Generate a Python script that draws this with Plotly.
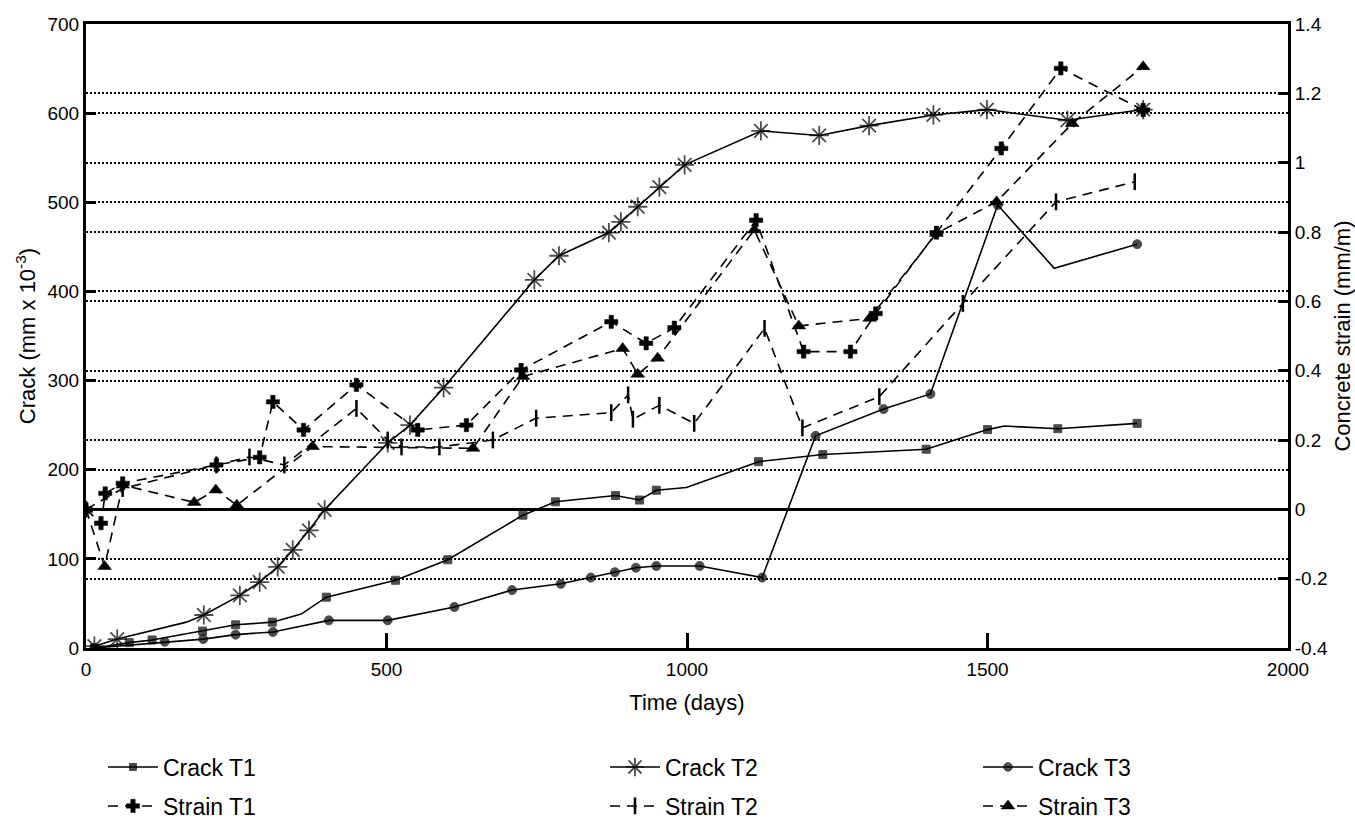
import plotly.graph_objects as go

# ---------------- data ----------------
crack_t1_days = [14, 72, 110, 194, 249, 310, 358, 400, 515, 602, 727, 781, 881, 921, 949, 999, 1119, 1226, 1398, 1500, 1528, 1617, 1749]
crack_t1 = [0, 6, 9, 19, 26, 29, 38, 57, 76, 99, 149, 164, 171, 166, 177, 180, 209, 217, 223, 245, 249, 246, 252]
crack_t1_nomarker_days = [358, 999, 1528]

crack_t2_days = [14, 52, 167, 196, 256, 289, 319, 344, 371, 397, 502, 539, 595, 746, 787, 870, 890, 918, 954, 996, 1123, 1220, 1303, 1410, 1499, 1633, 1759]
crack_t2 = [2, 10, 29, 37, 59, 74, 91, 110, 132, 155, 230, 250, 292, 413, 440, 466, 478, 495, 517, 542, 580, 575, 586, 598, 604, 592, 604]
crack_t2_nomarker_days = [167]

crack_t3_days = [14, 131, 195, 249, 311, 404, 502, 613, 709, 790, 840, 880, 915, 949, 1021, 1125, 1214, 1327, 1405, 1517, 1611, 1749]
crack_t3 = [0, 7, 10, 15, 18, 31, 31, 46, 65, 72, 79, 85, 90, 92, 92, 79, 238, 268, 285, 497, 426, 453]
crack_t3_nomarker_days = [1611]

strain_t1_days = [0, 25, 32, 61, 217, 289, 311, 362, 450, 552, 633, 724, 874, 932, 979, 1115, 1194, 1272, 1314, 1415, 1523, 1622, 1759]
strain_t1 = [0, -0.04, 0.046, 0.075, 0.128, 0.15, 0.31, 0.229, 0.359, 0.229, 0.243, 0.402, 0.541, 0.479, 0.524, 0.834, 0.455, 0.455, 0.565, 0.798, 1.041, 1.272, 1.152]

strain_t2_days = [0, 61, 217, 272, 330, 450, 502, 525, 588, 677, 749, 874, 902, 910, 954, 1012, 1129, 1192, 1320, 1459, 1614, 1745]
strain_t2 = [0, 0.06, 0.128, 0.151, 0.128, 0.291, 0.2, 0.18, 0.18, 0.2, 0.263, 0.279, 0.33, 0.26, 0.30, 0.248, 0.522, 0.235, 0.325, 0.594, 0.887, 0.945]

strain_t3_days = [0, 31, 61, 180, 216, 251, 377, 644, 727, 893, 918, 951, 1112, 1186, 1304, 1415, 1515, 1641, 1759]
strain_t3 = [0, -0.165, 0.07, 0.02, 0.056, 0.012, 0.181, 0.176, 0.383, 0.464, 0.39, 0.436, 0.806, 0.529, 0.551, 0.796, 0.887, 1.113, 1.277]

x_ticks = [0, 500, 1000, 1500, 2000]
crack_ticks = [0, 100, 200, 300, 400, 500, 600, 700]
strain_ticks = [-0.4, -0.2, 0, 0.2, 0.4, 0.6, 0.8, 1.0, 1.2, 1.4]
strain_tick_labels = ["-0.4", "-0.2", "0", "0.2", "0.4", "0.6", "0.8", "1", "1.2", "1.4"]

# ---------------- figure ----------------
FONT = "Liberation Sans, Arial, sans-serif"
W, H = 1355, 826
ML, MR, MT, MB = 86, 67, 24, 178
PW = W - ML - MR
PH = H - MT - MB

def sizes(days, base, skip):
    return [0 if d in skip else base for d in days]

fig = go.Figure()

crack_specs = [
    ("Crack T1", crack_t1_days, crack_t1, "square", 8, crack_t1_nomarker_days),
    ("Crack T2", crack_t2_days, crack_t2, "asterisk-open", 16, crack_t2_nomarker_days),
    ("Crack T3", crack_t3_days, crack_t3, "circle", 9, crack_t3_nomarker_days),
]
strain_specs = [
    ("Strain T1", strain_t1_days, strain_t1, "cross", 11),
    ("Strain T2", strain_t2_days, strain_t2, "line-ns-open", 12),
    ("Strain T3", strain_t3_days, strain_t3, "triangle-up", 12),
]

legend_names = ["legend", "legend2", "legend3", "legend4", "legend5", "legend6"]

for i, (name, xd, yd, sym, sz, skip) in enumerate(crack_specs):
    fig.add_trace(go.Scatter(
        x=xd, y=yd, name=name, mode="lines+markers",
        line=dict(color="black", width=1.6),
        marker=dict(symbol=sym, size=sizes(xd, sz, skip), color="black",
                    line=dict(color="black", width=1.8 if "open" in sym else 1)),
        legend=legend_names[i], yaxis="y",
    ))

for i, (name, xd, yd, sym, sz) in enumerate(strain_specs):
    fig.add_trace(go.Scatter(
        x=xd, y=yd, name=name, mode="lines+markers",
        line=dict(color="black", width=1.6, dash="10px,7px"),
        marker=dict(symbol=sym, size=sz, color="black",
                    line=dict(color="black", width=2.5 if "open" in sym else 0.5)),
        legend=legend_names[3 + i], yaxis="y2",
    ))

def px_to_paper_x(px):
    return (px - ML) / PW

def px_to_paper_y(py):
    return (H - MB - py) / PH

legend_common = dict(font=dict(family=FONT, size=23, color="black"),
                     bgcolor="rgba(0,0,0,0)", borderwidth=0, itemwidth=50,
                     xanchor="left", yanchor="middle")
col_x = [103, 605, 978]
row_y = [767, 806]
layout_legends = {}
for i, ln in enumerate(legend_names):
    col = i % 3
    row = i // 3
    layout_legends[ln] = dict(x=px_to_paper_x(col_x[col]), y=px_to_paper_y(row_y[row]), **legend_common)

fig.update_layout(
    width=W, height=H,
    margin=dict(l=ML, r=MR, t=MT, b=MB, autoexpand=False),
    paper_bgcolor="white", plot_bgcolor="white",
    font=dict(family=FONT, size=19, color="black"),
    showlegend=True,
    xaxis=dict(
        range=[0, 2000], tickvals=x_ticks, ticks="inside", ticklen=15, tickwidth=2.5,
        tickcolor="black", showline=True, linewidth=3, linecolor="black", mirror=True,
        showgrid=False, zeroline=False, ticklabelstandoff=2,
        title=dict(text="Time (days)", font=dict(size=22), standoff=16),
        tickfont=dict(size=19),
    ),
    yaxis=dict(
        range=[0, 700], tickvals=crack_ticks, ticks="inside", ticklen=10, tickwidth=3,
        tickcolor="black", showline=True, linewidth=3, linecolor="black",
        showgrid=True, gridcolor="black", gridwidth=1.5, griddash="2px,2px",
        zeroline=False,
        title=dict(text="Crack (mm x 10<sup>-3</sup>)", font=dict(size=22), standoff=6),
        tickfont=dict(size=19),
    ),
    yaxis2=dict(
        range=[-0.4, 1.4], tickvals=strain_ticks, ticktext=strain_tick_labels,
        overlaying="y", side="right", ticks="inside", ticklen=10, tickwidth=3,
        tickcolor="black", showline=True, linewidth=3, linecolor="black",
        showgrid=True, gridcolor="black", gridwidth=1.5, griddash="2px,2px",
        zeroline=True, zerolinecolor="black", zerolinewidth=3,
        title=dict(text="Concrete strain (mm/m)", font=dict(size=22), standoff=8),
        tickfont=dict(size=19),
    ),
    **layout_legends,
)

fig.write_html("out.html")
